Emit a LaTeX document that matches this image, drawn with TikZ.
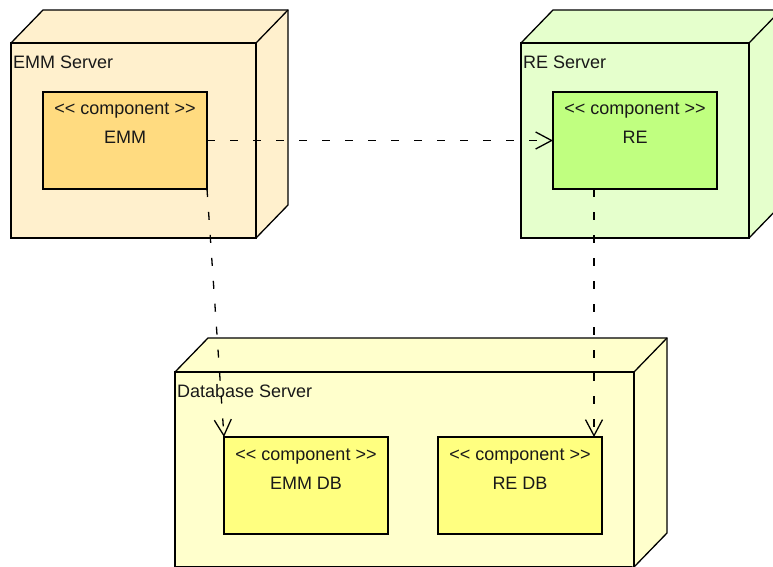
\documentclass[tikz,border=0pt]{standalone}
\usepackage{fontspec}
\newfontfamily\ls{Liberation Sans}
\usetikzlibrary{calc,arrows.meta}
\definecolor{emmsrv}{HTML}{FFF0CD}
\definecolor{emmcmp}{HTML}{FFDB80}
\definecolor{resrv}{HTML}{E5FFCC}
\definecolor{recmp}{HTML}{C0FF80}
\definecolor{dbsrv}{HTML}{FFFFCC}
\definecolor{dbcmp}{HTML}{FFFF80}
\tikzset{
  front/.style={draw=black, line width=1.3pt, rectangle, outer sep=0pt, inner sep=0pt, anchor=north west},
  comp/.style={draw=black, line width=1.3pt, rectangle, outer sep=0pt, inner sep=0pt, anchor=north west, minimum width=164pt, minimum height=97pt},
  txt/.style={font=\ls\fontsize{18}{21}\selectfont, inner sep=0pt, text=black!90},
  dep/.style={line width=1.3pt, dash pattern=on 8pt off 15pt, -{Straight Barb[length=16pt,width=17pt,line width=1.3pt]}},
}
\newcommand{\stereo}{<\kern0pt< component >\kern0pt>}
\newcommand{\cube}[3]{% name, colour, depth
  \fill[#2] (#1.north west) -- ++(#3) -- ($(#1.north east)+(#3)$) -- ($(#1.south east)+(#3)$) -- (#1.south east) -- cycle;
  \draw[line width=1.3pt] (#1.north west) -- ++(#3) -- ($(#1.north east)+(#3)$) -- ($(#1.south east)+(#3)$) -- (#1.south east);
  \draw[line width=1.3pt] (#1.north east) -- ($(#1.north east)+(#3)$);
  \draw[line width=2.2pt] (#1.north west) -- (#1.north east) -- (#1.south east);
}
\begin{document}
\begin{tikzpicture}[x=1pt,y=-1pt]
\useasboundingbox (0,0) rectangle (773,566);
\clip (0,0) rectangle (773,566);
% EMM Server
\node[front, fill=emmsrv, minimum width=245pt, minimum height=195pt] (emmsrv) at (11,43) {};
\cube{emmsrv}{emmsrv}{32,-33}
\node[txt, anchor=west] (emmsrvlbl) at (13,62) {EMM Server};
\node[comp, fill=emmcmp] (emm) at (43,92) {};
\node[txt] (emmst) at ($(emm.north)+(0,19)$) {\stereo};
\node[txt] (emmname) at ($(emm.north)+(0,45)$) {EMM};
% RE Server
\node[front, fill=resrv, minimum width=228pt, minimum height=195pt] (resrv) at (521,43) {};
\cube{resrv}{resrv}{32,-33}
\node[txt, anchor=west] (resrvlbl) at (523,62) {RE Server};
\node[comp, fill=recmp] (re) at (553,92) {};
\node[txt] (rest) at ($(re.north)+(0,19)$) {\stereo};
\node[txt] (rename) at ($(re.north)+(0,45)$) {RE};
% Database Server
\node[front, fill=dbsrv, minimum width=459pt, minimum height=195pt] (dbsrv) at (175,372) {};
\cube{dbsrv}{dbsrv}{33,-34}
\node[txt, anchor=west] (dbsrvlbl) at (177,391) {Database Server};
\node[comp, fill=dbcmp] (emmdb) at (224,437) {};
\node[txt] (emmdbst) at ($(emmdb.north)+(0,20)$) {\stereo};
\node[txt] (emmdbname) at ($(emmdb.north)+(0,46)$) {EMM DB};
\node[comp, fill=dbcmp] (redb) at (438,437) {};
\node[txt] (redbst) at ($(redb.north)+(0,20)$) {\stereo};
\node[txt] (redbname) at ($(redb.north)+(0,46)$) {RE DB};
% dependencies
\draw[dep] (emm.east) -- (re.west);
\draw[dep] (emm.south east) -- (emmdb.north west);
\coordinate (reout) at ($(re.south west)+(41,0)$);
\draw[dep] (reout) -- (reout |- redb.north);
\end{tikzpicture}
\end{document}
